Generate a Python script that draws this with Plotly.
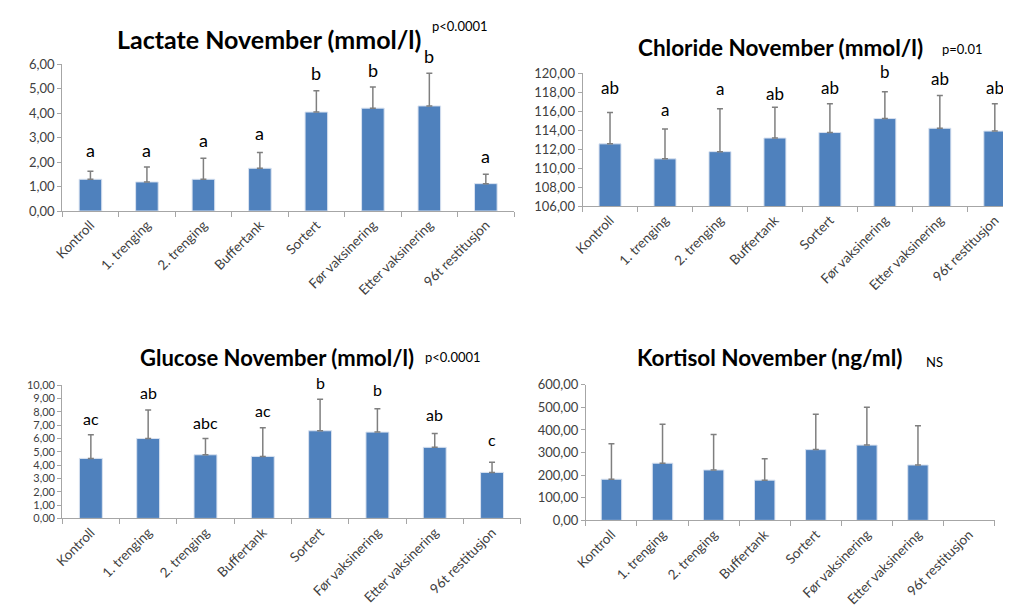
import plotly.graph_objects as go

# ---------------- data ----------------
categories = ["Kontroll", "1. trenging", "2. trenging", "Buffertank", "Sortert",
              "Før vaksinering", "Etter vaksinering", "96t restitusjon"]

lactate_mean = [1.30, 1.19, 1.30, 1.75, 4.05, 4.21, 4.30, 1.12]
lactate_sd = [0.33, 0.61, 0.86, 0.64, 0.87, 0.86, 1.34, 0.38]
lactate_letters = ["a", "a", "a", "a", "b", "b", "b", "a"]

chloride_mean = [112.56, 110.98, 111.74, 113.17, 113.75, 115.22, 114.20, 113.90]
chloride_sd = [3.31, 3.15, 4.51, 3.25, 3.04, 2.83, 3.44, 2.89]
chloride_letters = ["ab", "a", "a", "ab", "ab", "b", "ab", "ab"]

glucose_mean = [4.50, 5.99, 4.77, 4.65, 6.57, 6.47, 5.33, 3.45]
glucose_sd = [1.78, 2.13, 1.22, 2.14, 2.36, 1.75, 1.04, 0.76]
glucose_letters = ["ac", "ab", "abc", "ac", "b", "b", "ab", "c"]

kortisol_mean = [182, 253, 223, 178, 313, 333, 245, None]
kortisol_sd = [157, 172, 157, 95, 156, 167, 174, None]

lactate_ticks = [0, 1, 2, 3, 4, 5, 6]
lactate_ticktext = ["0,00", "1,00", "2,00", "3,00", "4,00", "5,00", "6,00"]
chloride_ticks = [106, 108, 110, 112, 114, 116, 118, 120]
chloride_ticktext = ["106,00", "108,00", "110,00", "112,00", "114,00", "116,00", "118,00", "120,00"]
glucose_ticks = [0, 1, 2, 3, 4, 5, 6, 7, 8, 9, 10]
glucose_ticktext = ["0,00", "1,00", "2,00", "3,00", "4,00", "5,00", "6,00", "7,00", "8,00", "9,00", "10,00"]
kortisol_ticks = [0, 100, 200, 300, 400, 500, 600]
kortisol_ticktext = ["0,00", "100,00", "200,00", "300,00", "400,00", "500,00", "600,00"]

titles = ["Lactate November (mmol/l)", "Chloride November (mmol/l)",
          "Glucose November (mmol/l)", "Kortisol November (ng/ml)"]
pvals = ["p<0.0001", "p=0.01", "p<0.0001", "NS"]

# ---------------- style ----------------
FONT = "Lato, Calibri, Carlito, sans-serif"
BAR = "#4F81BD"
ERR = "#7F7F7F"
AX = "#A6A6A6"
TXT = "#404040"

W, H = 1011, 608
OFF = 8  # page body margin offset

def px(x):
    return (x - OFF) / W

def py(y):
    return 1 - (y - OFF) / H

panels = [
    dict(mean=lactate_mean, sd=lactate_sd, letters=lactate_letters,
         xd=[px(50.7), px(508)], yd=[py(208.3), py(57.7)], yr=[0, 6],
         ticks=lactate_ticks, ticktext=lactate_ticktext, xr=[-0.5, 7.5],
         lshift=[21, 17, 18, 20, 18, 17, 17, 18], lsize=18, yfont=13),
    dict(mean=chloride_mean, sd=chloride_sd, letters=chloride_letters,
         xd=[px(577.3), 1.0], yd=[py(203.3), py(66.7)], yr=[106, 120],
         ticks=chloride_ticks, ticktext=chloride_ticktext, xr=[-0.5, 7.44],
         lshift=[25, 19, 20, 14, 16, 20, 17, 16], lsize=17, yfont=13),
    dict(mean=glucose_mean, sd=glucose_sd, letters=glucose_letters,
         xd=[px(50.7), px(514.7)], yd=[py(524), py(387)], yr=[0, 10],
         ticks=glucose_ticks, ticktext=glucose_ticktext, xr=[-0.5, 7.5],
         lshift=[16, 18, 16, 17, 17, 19, 19, 23], lsize=16, yfont=11),
    dict(mean=kortisol_mean, sd=kortisol_sd, letters=None,
         xd=[px(580.7), px(994.3)], yd=[py(526), py(386.7)], yr=[0, 600],
         ticks=kortisol_ticks, ticktext=kortisol_ticktext, xr=[-0.5, 7.5],
         lshift=None, lsize=16, yfont=13),
]

fig = go.Figure()
annotations = []

for i, p in enumerate(panels):
    n = i + 1
    xa = "x" if n == 1 else f"x{n}"
    ya = "y" if n == 1 else f"y{n}"
    fig.add_trace(go.Bar(
        x=categories, y=p["mean"], xaxis=xa, yaxis=ya,
        width=0.4,
        marker=dict(color=BAR, line=dict(color="#D9E2F0", width=1)),
        error_y=dict(type="data", array=p["sd"], symmetric=False,
                     arrayminus=[0] * len(p["sd"]),
                     color=ERR, thickness=1.5, width=3),
        showlegend=False, hoverinfo="skip",
    ))
    xkey = "xaxis" if n == 1 else f"xaxis{n}"
    ykey = "yaxis" if n == 1 else f"yaxis{n}"
    fig.update_layout(**{
        xkey: dict(domain=p["xd"], anchor=ya, type="category",
                   categoryorder="array", categoryarray=categories,
                   range=p["xr"], showgrid=False, zeroline=False,
                   showline=True, linecolor=AX, linewidth=1,
                   ticks="outside", tickson="boundaries", ticklen=5,
                   tickcolor=AX, tickangle=-45,
                   tickfont=dict(family=FONT, size=13.5, color=TXT)),
        ykey: dict(domain=p["yd"], anchor=xa, range=p["yr"],
                   tickvals=p["ticks"], ticktext=p["ticktext"],
                   showgrid=False, zeroline=False, showline=True,
                   linecolor=AX, linewidth=1, ticks="outside", ticklen=4,
                   tickcolor=AX,
                   tickfont=dict(family=FONT, size=p["yfont"], color=TXT)),
    })
    if p["letters"]:
        for c, m, s, t, sh in zip(categories, p["mean"], p["sd"], p["letters"], p["lshift"]):
            annotations.append(dict(
                x=c, y=m + s, xref=xa, yref=ya, text=t, showarrow=False,
                yanchor="middle", yshift=sh,
                font=dict(family=FONT, size=p["lsize"], color="#000000")))

title_pos = [(260, 31.7, 25), (778, 40, 22.5), (268, 358.3, 22), (766.7, 358.3, 22.5)]
p_pos = [(453, 18.3), (961.7, 41.7), (446.7, 358.3), (933, 363.3)]
for t, (x, y, s) in zip(titles, title_pos):
    annotations.append(dict(x=px(x), y=py(y), xref="paper", yref="paper",
                            text=f"<b>{t}</b>", showarrow=False,
                            xanchor="center", yanchor="middle",
                            font=dict(family=FONT, size=s, color="#000000")))
for t, (x, y) in zip(pvals, p_pos):
    annotations.append(dict(x=px(x), y=py(y), xref="paper", yref="paper",
                            text=t, showarrow=False,
                            xanchor="center", yanchor="middle",
                            font=dict(family=FONT, size=13, color="#000000")))

fig.update_layout(
    width=W, height=H,
    margin=dict(l=0, r=0, t=0, b=0),
    paper_bgcolor="white", plot_bgcolor="white",
    annotations=annotations,
    bargap=0.6,
)

fig.write_html("out.html")
